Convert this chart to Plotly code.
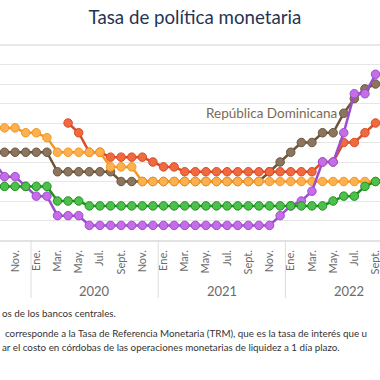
import plotly.graph_objects as go

# ---------------- data ----------------
months = [
    "2019-09", "2019-10", "2019-11", "2019-12",
    "2020-01", "2020-02", "2020-03", "2020-04", "2020-05", "2020-06",
    "2020-07", "2020-08", "2020-09", "2020-10", "2020-11", "2020-12",
    "2021-01", "2021-02", "2021-03", "2021-04", "2021-05", "2021-06",
    "2021-07", "2021-08", "2021-09", "2021-10", "2021-11", "2021-12",
    "2022-01", "2022-02", "2022-03", "2022-04", "2022-05", "2022-06",
    "2022-07", "2022-08", "2022-09",
]
month_names = {"01": "Ene.", "03": "Mar.", "05": "May.", "07": "Jul.",
               "09": "Sept.", "11": "Nov."}

honduras = [5.75, 5.75, 5.75, 5.5, 5.5, 5.25, 4.5, 4.5, 4.5, 4.5, 4.5,
            3.75, 3.75, 3.75] + [3.0] * 23
rep_dominicana = [4.5] * 6 + [3.5] * 6 + [3.0] * 14 + [
    3.5, 4.0, 4.5, 5.0, 5.0, 5.5, 5.5, 6.5, 7.25, 7.75, 8.0]
nicaragua = [None] * 7 + [6.0, 5.5, 4.5, 4.5, 4.25, 4.25, 4.25, 4.25, 4.0,
                          3.75, 3.75] + [3.5] * 13 + [4.0, 4.0, 5.0, 5.0, 5.5, 6.0]
guatemala = [2.75] * 6 + [2.0] * 3 + [1.75] * 23 + [2.0, 2.25, 2.25, 2.75, 3.0]
costa_rica = [4.0, 3.25, 3.25, 2.75, 2.25, 2.25, 1.25, 1.25, 1.25] + [0.75] * 18 + [
    1.25, 1.75, 2.0, 2.5, 4.0, 4.0, 5.5, 7.5, 7.5, 8.5]

title_text = "Tasa de política monetaria"
label_rd = "República Dominicana"
footer_lines = [
    "os de los bancos centrales.",
    "corresponde a la Tasa de Referencia Monetaria (TRM), que es la tasa de interés que u",
    "ar el costo en córdobas de las operaciones monetarias de liquidez a 1 día plazo.",
]

# ---------------- figure ----------------
FONT = "Lato, 'DejaVu Sans', sans-serif"
series = [
    ("República Dominicana", rep_dominicana, "#6c5536", "#8b7560"),
    ("Nicaragua", nicaragua, "#dc4a27", "#ef6a3f"),
    ("Honduras", honduras, "#f7951f", "#fbb14f"),
    ("Costa Rica", costa_rica, "#9c4dce", "#c56ce9"),
    ("Guatemala", guatemala, "#1d931d", "#4dbf4d"),
]

fig = go.Figure()
for name, vals, lc, mc in series:
    fig.add_trace(go.Scatter(
        x=months, y=vals, name=name, mode="lines+markers",
        line=dict(color=lc, width=2.5),
        marker=dict(size=8.5, color=mc, line=dict(color=lc, width=1)),
        connectgaps=False, showlegend=False,
    ))

tickvals = [m for m in months if m[5:] in month_names]
ticktext = [month_names[m[5:]] for m in tickvals]

fig.update_xaxes(
    type="category", range=[0.575, 36.42],
    tickmode="array", tickvals=tickvals, ticktext=ticktext,
    tickangle=-90, tickfont=dict(family=FONT, size=11, color="#6a6a6a"),
    ticks="outside", ticklen=4, tickcolor="rgba(0,0,0,0)",
    showgrid=False, showline=True, linecolor="#e2e2e2", linewidth=1.5,
    zeroline=False, automargin=False,
)
fig.update_yaxes(
    range=[0, 10], dtick=1, showticklabels=False,
    showgrid=True, gridcolor="#e6e6e6", gridwidth=1,
    zeroline=False, automargin=False,
)

shapes = [dict(type="line", xref="paper", yref="paper", x0=0, x1=1, y0=1, y1=1,
               line=dict(color="#e0e0e0", width=1.5))]
annotations = []
years = sorted({m[:4] for m in months})
for y in years:
    idx = [i for i, m in enumerate(months) if m[:4] == y]
    first = idx[0] if months[idx[0]].endswith("-01") else None
    if first is not None:
        shapes.append(dict(type="line", xref="x", yref="paper",
                           x0=first - 0.5, x1=first - 0.5, y0=0, y1=-0.297,
                           line=dict(color="#dedede", width=1)))
        annotations.append(dict(x=first + 5.5, xref="x", y=-0.262, yref="paper",
                                text=y, showarrow=False, xanchor="center",
                                yanchor="middle",
                                font=dict(family=FONT, size=13, color="#6a6a6a")))

# label for República Dominicana
i_lab = 33
annotations.append(dict(x=months[i_lab], y=rep_dominicana[i_lab], xref="x", yref="y",
                        text=label_rd, showarrow=False, xanchor="right",
                        yanchor="middle", xshift=-5,
                        font=dict(family=FONT, size=13.5, color="#7b6a55")))

footer_y = [-0.374, -0.477, -0.549]
footer_x = [0.0, 0.008, 0.0]
for t, fy, fx in zip(footer_lines, footer_y, footer_x):
    annotations.append(dict(x=fx, y=fy, xref="paper", yref="paper", text=t,
                            showarrow=False, xanchor="left", yanchor="middle",
                            font=dict(family=FONT, size=9.8, color="#333333")))

fig.update_layout(
    width=380, height=380,
    margin=dict(l=0, r=0, t=45, b=140, pad=0),
    paper_bgcolor="white", plot_bgcolor="white",
    title=dict(text=title_text, x=0.513, xanchor="center", y=0.955,
               yanchor="middle",
               font=dict(family=FONT, size=18.7, color="#1f3556")),
    shapes=shapes, annotations=annotations,
)

fig.write_html("out.html",
               config={"displayModeBar": False},
               post_script="document.body.style.margin='0';document.body.style.overflow='hidden';")
